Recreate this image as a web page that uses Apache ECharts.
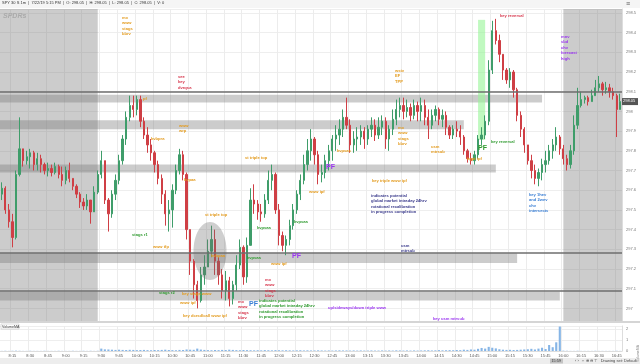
<!DOCTYPE html>
<html><head><meta charset="utf-8">
<script src="https://cdn.jsdelivr.net/npm/echarts@6/dist/echarts.min.js"></script>
<style>html,body{margin:0;padding:0;background:#fff}#c{width:640px;height:364px}</style>
</head><body><div id="c"></div>
<script>
// 3-minute bars starting 8:06
const firstOpen = 297.58;
const closes = [
297.61,297.50,297.44,297.36,297.68,297.81,297.75,297.77,297.79,297.73,
297.76,297.73,297.70,297.71,297.69,297.72,297.68,297.65,297.70,297.66,
297.62,297.58,297.54,297.52,297.55,297.49,297.59,297.68,297.75,297.55,
297.48,297.58,297.65,297.75,297.86,297.97,298.03,298.01,298.06,297.95,
297.88,297.83,297.79,297.73,297.66,297.58,297.48,297.50,297.60,297.70,
297.78,297.68,297.40,297.24,297.12,297.04,297.17,297.21,297.29,297.35,
297.24,297.17,297.09,297.14,297.05,297.12,297.22,297.31,297.16,297.32,
297.55,297.53,297.49,297.48,297.55,297.65,297.68,297.50,297.37,297.32,
297.35,297.42,297.50,297.58,297.65,297.73,297.80,297.86,297.78,297.68,
297.69,297.75,297.80,297.86,297.88,297.91,297.97,297.93,297.83,297.86,
297.87,297.90,297.86,297.91,297.93,297.88,297.92,297.95,297.86,297.91,
297.96,298.01,298.03,298.00,298.02,297.98,298.03,298.00,298.03,297.97,
297.93,297.98,298.01,297.96,297.98,297.92,297.88,297.91,297.90,297.87,
297.80,297.76,297.75,297.78,297.86,297.88,297.95,298.21,298.41,298.36,
298.29,298.21,298.16,298.20,298.11,297.98,297.91,297.83,297.75,297.70,
297.66,297.69,297.73,297.75,297.80,297.83,297.87,297.81,297.76,297.73,
297.80,297.93,298.03,298.06,298.07,298.05,298.08,298.12,298.14,298.11,
298.12,298.10,298.08,298.01,298.05];
const highs = [
297.64,297.62,297.53,297.48,297.70,297.97,297.81,297.80,297.81,297.80,
297.79,297.78,297.74,297.74,297.73,297.74,297.73,297.72,297.72,297.74,
297.66,297.63,297.59,297.56,297.58,297.55,297.62,297.70,297.80,297.75,
297.56,297.60,297.68,297.78,297.88,298.00,298.08,298.08,298.08,298.08,
297.97,297.92,297.86,297.80,297.75,297.68,297.60,297.55,297.63,297.73,
297.81,297.80,297.69,297.37,297.25,297.14,297.21,297.27,297.35,297.42,
297.40,297.26,297.20,297.19,297.16,297.14,297.27,297.35,297.32,297.36,
297.61,297.63,297.55,297.53,297.58,297.70,297.73,297.69,297.53,297.39,
297.37,297.45,297.53,297.60,297.68,297.78,297.86,297.91,297.87,297.80,
297.73,297.78,297.83,297.88,297.93,297.96,298.01,298.07,297.96,297.90,
297.92,297.93,297.92,297.93,297.97,297.96,297.97,297.98,297.97,297.93,
298.01,298.06,298.07,298.07,298.06,298.04,298.06,298.05,298.07,298.06,
298.01,298.01,298.03,298.02,298.01,298.00,297.93,297.93,297.95,297.93,
297.88,297.81,297.79,297.80,297.88,297.92,297.98,298.26,298.46,298.47,
298.39,298.29,298.22,298.22,298.21,298.12,298.00,297.92,297.83,297.78,
297.73,297.71,297.76,297.80,297.83,297.86,297.92,297.88,297.83,297.78,
297.83,297.98,298.12,298.10,298.08,298.08,298.11,298.16,298.18,298.15,
298.15,298.14,298.12,298.09,298.09];
const lows = [
297.55,297.48,297.41,297.31,297.35,297.67,297.72,297.73,297.71,297.70,
297.70,297.69,297.68,297.67,297.67,297.68,297.66,297.62,297.63,297.64,
297.60,297.56,297.51,297.50,297.50,297.43,297.49,297.58,297.66,297.53,
297.39,297.46,297.55,297.63,297.73,297.83,297.95,297.97,297.98,297.92,
297.86,297.79,297.75,297.69,297.63,297.53,297.42,297.39,297.41,297.58,
297.68,297.65,297.35,297.17,297.05,297.00,297.03,297.12,297.21,297.26,
297.17,297.12,297.05,297.04,297.01,297.02,297.09,297.20,297.12,297.13,
297.32,297.48,297.45,297.44,297.46,297.53,297.60,297.48,297.32,297.29,
297.27,297.32,297.40,297.48,297.55,297.63,297.70,297.75,297.73,297.63,
297.64,297.66,297.70,297.75,297.80,297.83,297.87,297.91,297.79,297.79,
297.80,297.83,297.81,297.83,297.87,297.85,297.86,297.88,297.81,297.80,
297.88,297.93,297.97,297.96,297.97,297.95,297.96,297.95,297.95,297.93,
297.86,297.91,297.95,297.93,297.92,297.88,297.86,297.86,297.87,297.83,
297.78,297.74,297.73,297.73,297.76,297.83,297.86,297.93,298.19,298.34,
298.25,298.16,298.14,298.12,298.07,297.95,297.87,297.79,297.73,297.66,
297.63,297.62,297.65,297.69,297.73,297.76,297.80,297.78,297.73,297.70,
297.71,297.78,297.91,298.02,298.04,298.03,298.05,298.08,298.10,298.08,
298.09,298.07,298.06,297.87,298.04];
const volumes = [
0.01,0.02,0.01,0.02,0.03,0.02,0.01,0.01,0.02,0.01,
0.01,0.01,0.02,0.01,0.01,0.01,0.02,0.01,0.01,0.01,
0.02,0.01,0.01,0.02,0.01,0.02,0.01,0.02,
0.22,0.15,0.14,0.12,0.1,0.12,0.1,0.09,0.11,0.1,
0.08,0.09,0.1,0.08,0.07,0.09,0.08,0.1,0.12,0.09,
0.08,0.07,0.1,0.09,0.14,0.12,0.11,0.22,0.13,0.1,
0.08,0.07,0.09,0.08,0.1,0.09,0.12,0.1,0.08,0.07,
0.09,0.08,0.07,0.06,0.07,0.06,0.08,0.07,0.06,0.08,
0.07,0.06,0.07,0.06,0.05,0.06,0.07,0.05,0.06,0.05,
0.05,0.06,0.05,0.04,0.05,0.04,0.05,0.06,0.05,0.05,
0.04,0.05,0.04,0.05,0.04,0.04,0.05,0.04,0.04,0.05,
0.04,0.05,0.04,0.06,0.05,0.04,0.05,0.04,0.05,0.04,
0.05,0.06,0.07,0.05,0.06,0.08,0.06,0.07,0.08,0.07,
0.09,0.08,0.12,0.1,0.14,0.12,0.2,0.28,0.22,0.38,
0.3,0.24,0.16,0.12,0.1,0.11,0.09,0.1,0.12,0.14,
0.16,0.2,0.14,0.22,0.3,0.18,0.55,0.35,0.8,2.25,
0.03,0.02,0.01,0.01,0.02,0.01,0.01,0.01,0.01,0.02,0.01,0.01,0.01,0.01,0.01,0.02,0.01];
// support/resistance zones: [top, bottom, end time]
const bands = [[298.085,298.045,'15:42'],[297.955,297.91,'14:36'],[297.73,297.69,'15:03'],[297.28,297.23,'15:21'],[297.085,297.04,'15:57']];
const levels = [298.095, 297.28, 297.09];
const yMin = 296.936, yMax = 298.52;
const sessionOpen = '9:27', sessionClose = '16:00';
const highlight = ['14:48','14:54',298.465,297.855];

const cats = [];
for (let i = 0; i < closes.length; i++) {
  const m = 8*60 + 6 + 3*i;
  cats.push(Math.floor(m/60) + ':' + String(m%60).padStart(2,'0'));
}
const isQuarter = (i) => { const p = cats[i].split(':'); return (+p[1]) % 15 === 0; };
const candles = closes.map((c, i) => {
  const o = i === 0 ? firstOpen : closes[i-1];
  return [o, c, Math.min(lows[i], o, c), Math.max(highs[i], o, c)];
});

const ORANGE = '#e39a1c', RED = '#d6344a', PURPLE = '#9a34f0', GREEN = '#2f9a2f', NAVY = '#3b3b8c', BLUE = '#3a7fd4';
const notes = [
  [122,15,'mx\nwww\nstags\nbbrv',ORANGE],
  [178,74,'see\nkey\ndvrqsa',RED],
  [143,96,'pf',ORANGE],
  [395,68,'wstv\nEF\nTPP',ORANGE],
  [500,13,'key reversal',RED],
  [561,34,'mnv\nsbd\nchv\nforecast\nhigh',PURPLE],
  [179,123,'www\nwrp',ORANGE],
  [151,136,'kvbpra',ORANGE],
  [184,177,'kvpaa',ORANGE],
  [205,212,'st triple top',ORANGE],
  [245,155,'st triple top',ORANGE],
  [398,125,'mx\nwww\nstags\nbbrv',ORANGE],
  [337,148,'kvpsaa',ORANGE],
  [309,189,'www ipf',ORANGE],
  [372,178,'key triple www ipf',ORANGE],
  [371,193,'indicates potential\nglobal market intraday 24hrv\nrotational recalibration\nin progress completion',NAVY],
  [257,225,'kvpsaa',GREEN],
  [294,219,'kvpsaa',GREEN],
  [132,232,'stags r1',GREEN],
  [431,144,'usm\nmtrsub',ORANGE],
  [491,139,'key reversal',GREEN],
  [467,156,'kgpt ipf',ORANGE],
  [529,192,'key 1hev\nand 2wev\nchv\nintersects',BLUE],
  [153,244,'www tfp',ORANGE],
  [159,290,'stags r2',GREEN],
  [182,291,'key stags www',ORANGE],
  [180,300,'www ipf',ORANGE],
  [183,313,'key dcrsd/call www ipf',ORANGE],
  [211,253,'kvbpaa',ORANGE],
  [247,255,'kvpsaa',GREEN],
  [271,261,'www ipf',ORANGE],
  [265,277,'mx\nwww\nstags\nbbrv',RED],
  [238,299,'mx\nwww\nstags\nbbrv',RED],
  [259,298,'indicates potential\nglobal market intraday 24hrv\nrotational recalibration\nin progress completion',GREEN],
  [328,305,'up/sideways/down triple www',PURPLE],
  [401,243,'usm\nmtrsub',NAVY],
  [433,316,'key usm mtrsub',PURPLE]
];
const pfMarks = [[326,164,PURPLE],[478,145,GREEN],[292,253,PURPLE],[249,301,BLUE]];

const areaData = [
  [{yAxis: yMax}, {xAxis: sessionOpen, yAxis: yMin}],
  [{xAxis: sessionClose, yAxis: yMax}, {yAxis: yMin}]
].map(a => { a[0].itemStyle = {color: 'rgba(120,120,120,0.38)'}; return a; });
bands.forEach(b => areaData.push([{yAxis: b[0], itemStyle:{color:'rgba(120,120,120,0.38)'}}, {xAxis: b[2], yAxis: b[1]}]));
areaData.push([{xAxis: highlight[0], yAxis: highlight[2], itemStyle:{color:'rgba(150,245,150,0.6)'}}, {xAxis: highlight[1], yAxis: highlight[3]}]);

const chart = echarts.init(document.getElementById('c'), null, {renderer: 'canvas'});
const FONT = 'Liberation Sans';
chart.setOption({
  animation: false,
  backgroundColor: '#fff',
  grid: [
    {left: 0, right: 18, top: 9, height: 312},
    {left: 0, right: 18, top: 326, height: 25}
  ],
  xAxis: [
    {type: 'category', data: cats, gridIndex: 0, axisLine:{show:false}, axisTick:{show:false}, axisLabel:{show:false},
     splitLine:{show:true, interval: (i) => isQuarter(i), lineStyle:{color:'#ececec', width:1}}},
    {type: 'category', data: cats, gridIndex: 1, axisLine:{show:true, lineStyle:{color:'#ddd'}}, axisTick:{show:false},
     axisLabel:{interval: (i) => isQuarter(i), fontSize: 4, color:'#555', margin: 3, fontFamily: FONT},
     splitLine:{show:true, interval: (i) => isQuarter(i), lineStyle:{color:'#ececec'}}}
  ],
  yAxis: [
    {type: 'value', gridIndex: 0, position: 'right', min: yMin, max: yMax, splitNumber: 15, scale: true,
     axisLine:{show:true, lineStyle:{color:'#ddd'}}, axisTick:{show:false},
     axisLabel:{fontSize: 4, color:'#777', margin: 4, showMinLabel:false, showMaxLabel:false, fontFamily: FONT},
     splitLine:{lineStyle:{color:'#eeeeee'}}},
    {type: 'value', gridIndex: 1, position: 'right', min: 0, max: 2.3, interval: 1,
     axisLine:{show:true, lineStyle:{color:'#ddd'}}, axisTick:{show:false},
     axisLabel:{fontSize: 4, color:'#777', margin: 4, showMaxLabel:false, fontFamily: FONT},
     splitLine:{lineStyle:{color:'#eeeeee'}}}
  ],
  series: [
    {type: 'candlestick', xAxisIndex: 0, yAxisIndex: 0, data: candles, barWidth: '50%',
     itemStyle: {color: '#3f9d6a', color0: '#cf3f45', borderColor: '#3f9d6a', borderColor0: '#cf3f45', borderWidth: 1},
     markArea: {silent: true, data: areaData},
     markLine: {silent: true, symbol: 'none', label:{show:false},
       lineStyle:{color:'#6e6e6e', width:1.5, type:'solid'},
       data: levels.map(v => ({yAxis: v}))}
    },
    {type: 'bar', xAxisIndex: 1, yAxisIndex: 1, data: volumes, barWidth: '60%', itemStyle:{color:'#86b5e6'}}
  ]
});

const lastClose = closes[closes.length-1];
const py = chart.convertToPixel({yAxisIndex: 0}, lastClose);
const g = [];
// header
g.push({type:'rect', shape:{x:0,y:0,width:640,height:8}, style:{fill:'#f5f5f5'}, z:50});
g.push({type:'text', left: 2, top: 1, style:{text:'SPY 30 S 1m  |  7/22/19 5:15 PM  |  O: 298.05  |  H: 298.05  |  L: 298.05  |  C: 298.05  |  V: 0', fontSize:4, fill:'#333', fontFamily: FONT}, z:51});
g.push({type:'text', left: 626, top: 1, style:{text:'≡', fontSize:7, fill:'#555'}, z:51});
// logo
g.push({type:'text', left: 3, top: 13, style:{text:'SPDRs', fontSize:7, fontWeight:'bold', fontStyle:'italic', fill:'#aaaaaa', fontFamily: FONT}, z:40});
// ellipse
g.push({type:'ellipse', shape:{cx:210, cy:251, rx:16.5, ry:29}, style:{fill:'rgba(110,110,110,0.33)'}, z:30});
// annotations
notes.forEach(n => g.push({type:'text', left:n[0], top:n[1], z:60,
  style:{text:n[2], fontSize:4.1, lineHeight:5.5, fill:n[3], fontFamily: FONT, fontWeight:'bold'}}));
pfMarks.forEach(p => g.push({type:'text', left:p[0], top:p[1], z:60,
  style:{text:'PF', fontSize:7, fill:p[2], fontFamily: FONT, fontWeight:'bold'}}));
// price tag
g.push({type:'rect', shape:{x:622, y:py-3.5, width:16, height:7}, style:{fill:'#555'}, z:60});
g.push({type:'text', left:623, top: py-2.5, style:{text:lastClose.toFixed(2), fontSize:4, fill:'#fff', fontFamily: FONT}, z:61});
// separator & volume label
g.push({type:'rect', shape:{x:0,y:321,width:640,height:2}, style:{fill:'#d5d5d5'}, z:20});
g.push({type:'rect', shape:{x:1,y:324,width:18,height:5}, style:{fill:'#fff', stroke:'#bbb', lineWidth:0.5}, z:55});
g.push({type:'text', left:2, top:324.5, style:{text:'VolumeMA', fontSize:3.6, fill:'#333', fontFamily: FONT}, z:56});
g.push({type:'text', left:636, top:345, rotation: Math.PI/2, style:{text:'VolumeMA', fontSize:3.5, fill:'#888', fontFamily: FONT}, z:56});
// bottom bar
g.push({type:'rect', shape:{x:0,y:358,width:640,height:6}, style:{fill:'#ededed'}, z:50});
g.push({type:'rect', shape:{x:550,y:358.5,width:13,height:5}, style:{fill:'#c4c4c4'}, z:51});
g.push({type:'text', left:551.5, top:359, style:{text:'15:59', fontSize:3.8, fill:'#333', fontFamily: FONT}, z:52});
g.push({type:'text', left:575, top:358.5, style:{text:'‹ ›  ⇔ ⊕ ⊖ ⊤   Drawing set: Default', fontSize:4, fill:'#444', fontFamily: FONT}, z:52});
chart.setOption({graphic: g});
</script></body></html>
